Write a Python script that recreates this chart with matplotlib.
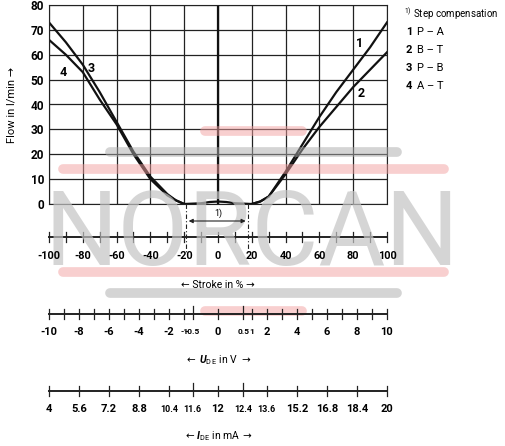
import numpy as np
import matplotlib
matplotlib.use("Agg")
import matplotlib.pyplot as plt

plt.rcParams['font.family'] = ['Roboto', 'DejaVu Sans']
plt.rcParams['mathtext.fontset'] = 'custom'
plt.rcParams['mathtext.bf'] = 'Roboto:bold:italic'
plt.rcParams['mathtext.rm'] = 'Roboto'

# flow curves (stroke %, flow l/min)
stroke_r = [20, 25, 30, 40, 50, 60, 70, 80, 90, 100]
flow_1 = [0, 1, 3, 13, 24, 35, 45, 54, 63, 73]
flow_2 = [0, 1, 3, 12, 22, 31, 39, 47, 54, 61]
stroke_l = [-100, -90, -80, -70, -60, -50, -40, -30, -25, -20]
flow_3 = [73, 65, 56, 45, 33, 21, 11, 4, 1.5, 0]
flow_4 = [66, 60, 53, 42, 32, 20, 10, 3.5, 1.5, 0]
stroke_c = [-20, -10, -5, 0, 5, 10, 20]
flow_c = [0, 0.3, 0.8, 1.0, 0.8, 0.3, 0]

stroke_labels = [-100, -80, -60, -40, -20, 0, 20, 40, 60, 80, 100]
volt_ticks = [-10, -9, -8, -7, -6, -5, -4, -3, -2, -1, -0.5, 0, 0.5, 1, 2, 3, 4, 5, 6, 7, 8, 9, 10]
volt_labels = [-10, -8, -6, -4, -2, -1, -0.5, 0, 0.5, 1, 2, 4, 6, 8, 10]
curr_volts = [-10, -8, -6, -4, -2, -0.5, 0, 0.5, 2, 4, 6, 8, 10]
curr_labels = ['4', '5.6', '7.2', '8.8', '10.4', '11.6', '12', '12.4', '13.6', '15.2', '16.8', '18.4', '20']
legend = [('1', 'P – A'), ('2', 'B – T'), ('3', 'P – B'), ('4', 'A – T')]


def v2s(v):
    if abs(v) >= 1:
        return np.sign(v) * (20 + (abs(v) - 1) * 80 / 9)
    return v * 30


def s2px(s):
    return 49 + (s + 100) / 200 * 338


fig = plt.figure(figsize=(5.06, 4.46), dpi=100)
ax = fig.add_axes([49 / 506, 1 - 204 / 446, 338 / 506, 199 / 446])
ax.set_xlim(-100, 100)
ax.set_ylim(0, 80)
ax.set_xticks(range(-100, 101, 20))
ax.set_yticks(range(0, 81, 10))
ax.grid(True, color='#222', lw=0.9)
ax.tick_params(length=0, labelbottom=False, labelsize=8.5)
for t in ax.get_yticklabels():
    t.set_fontweight('bold')
for s in ax.spines.values():
    s.set_color('#222')
ax.set_ylabel('Flow in l/min →', fontsize=8, labelpad=10)

for x, y in [(stroke_r, flow_1), (stroke_r, flow_2), (stroke_l, flow_3), (stroke_l, flow_4), (stroke_c, flow_c)]:
    ax.plot(x, y, color='#111', lw=1.6)
ax.plot([0, 0], [0, 80], color='#111', lw=1.6)
for txt, x, y in [('1', 84, 64.5), ('2', 84.5, 44.5), ('3', -75, 54.5), ('4', -91.5, 53)]:
    ax.text(x, y, txt, fontsize=9, fontweight='bold', ha='center', va='center')

ov2 = fig.add_axes([0, 0, 1, 1])
ov2.set_xlim(0, 506)
ov2.set_ylim(446, 0)
ov2.axis('off')
ov2.patch.set_alpha(0)

# watermark
ov2.text(252, 236, 'NORCAN', fontsize=74, color='#c4c4c4', ha='center',
         va='center', alpha=0.7)
for y, x0, x1, c in [(131, 205, 302, '#f2a0a0'), (152, 110, 397, '#aaaaaa'), (169, 63, 444, '#f2a0a0'),
                     (272, 63, 444, '#f2a0a0'), (293, 110, 397, '#aaaaaa'), (311, 205, 302, '#f2a0a0')]:
    ov2.plot([x0, x1], [y, y], color=c, lw=7, alpha=0.5, solid_capstyle='round')

# step compensation marks
for s in [-19, 18]:
    ov2.plot([s2px(s)] * 2, [204, 252], color='#222', lw=0.8, ls=(0, (4, 2, 1, 2)))
ov2.annotate('', xy=(s2px(-19), 221), xytext=(s2px(18), 221),
             arrowprops=dict(arrowstyle='<|-|>', color='#222', lw=0.8, mutation_scale=6))
ov2.text(s2px(0), 216, '1)', fontsize=6.5, ha='center')

# stroke axis
ov2.plot([49, 387], [237, 237], color='#222', lw=1.4)
for s in range(-100, 101, 10):
    ov2.plot([s2px(s)] * 2, [232, 242], color='#222', lw=0.9)
for s in stroke_labels:
    ov2.text(s2px(s), 256, str(s), fontsize=7.8, fontweight='bold', ha='center', va='center')
ov2.text(218, 285, '← Stroke in % →', fontsize=7.5, ha='center', va='center')


def arrow_label(y, mid, half):
    ov2.text(218, y, mid, fontsize=7.5, ha='center', va='center')
    ov2.text(218 - half, y, '←', fontsize=7.5, ha='right', va='center')
    ov2.text(218 + half, y, '→', fontsize=7.5, ha='left', va='center')


# voltage axis
ov2.plot([49, 387], [314, 314], color='#222', lw=1.4)
for v in volt_ticks:
    h = 8 if v in (-0.5, 0.5) else 5
    ov2.plot([s2px(v2s(v))] * 2, [314 - h, 314 + 5], color='#222', lw=0.9)
for v in volt_labels:
    small = abs(v) <= 1 and v != 0
    ov2.text(s2px(v2s(v)), 332, '%g' % v, fontsize=6 if small else 8, fontweight='bold',
             ha='center', va='center')
arrow_label(360, '$\\mathbf{U}_{\\rm D\\,E}$ in V', 23)

# current axis
ov2.plot([49, 387], [391, 391], color='#222', lw=1.4)
for v in curr_volts:
    h = 8 if v in (-0.5, 0.5) else 5
    ov2.plot([s2px(v2s(v))] * 2, [391 - h, 391 + 5], color='#222', lw=0.9)
for v, lab in zip(curr_volts, curr_labels):
    small = lab in ('10.4', '11.6', '12.4', '13.6')
    ov2.text(s2px(v2s(v)), 409, lab, fontsize=6.5 if small else 8, fontweight='bold',
             ha='center', va='center')
arrow_label(436, '$\\mathbf{I}_{\\rm D\\,E}$ in mA', 24)

# legend
ov2.text(404, 14, '$^{1)}$ Step compensation', fontsize=7, va='center')
for i, (n, lab) in enumerate(legend):
    y = 32 + i * 18
    ov2.text(406, y, n, fontsize=8, fontweight='bold', va='center')
    ov2.text(417, y, lab, fontsize=8, va='center')

fig.savefig('out.png', dpi=100)
